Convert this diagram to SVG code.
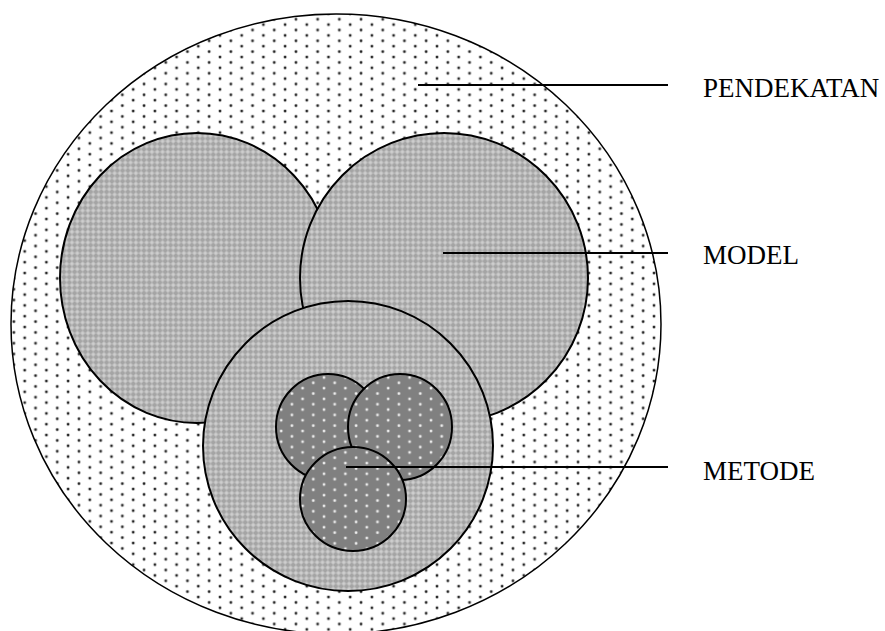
<svg xmlns="http://www.w3.org/2000/svg" width="885" height="631" viewBox="0 0 885 631">
<defs>
<pattern id="dots" width="21.7" height="10.8" patternUnits="userSpaceOnUse">
<rect width="21.7" height="10.8" fill="#ffffff"/>
<circle cx="3" cy="3" r="1.8" fill="#aaaaaa"/>
<rect x="2" y="2" width="2" height="2" fill="#222222"/>
<circle cx="13.85" cy="8.4" r="1.8" fill="#aaaaaa"/>
<rect x="12.85" y="7.4" width="2" height="2" fill="#222222"/>
</pattern>
<pattern id="hatch" width="5.33" height="5.33" patternUnits="userSpaceOnUse">
<rect width="5.33" height="5.33" fill="#a4a4a4"/>
<path d="M0 2.66 L2.66 0 L5.33 2.66 L2.66 5.33 Z" fill="#c4c4c4"/>
<rect x="2.1" y="2.1" width="1.1" height="1.1" fill="#e0e0e0"/>
</pattern>
<pattern id="wdots" width="21.4" height="10.7" patternUnits="userSpaceOnUse">
<rect width="21.4" height="10.7" fill="#808080"/>
<circle cx="3" cy="3" r="1.7" fill="#b0b0b0"/>
<rect x="2" y="2" width="2" height="2" fill="#f0f0f0"/>
<circle cx="13.7" cy="8.35" r="1.7" fill="#b0b0b0"/>
<rect x="12.7" y="7.35" width="2" height="2" fill="#f0f0f0"/>
</pattern>
<style>
.c{stroke:#000;stroke-width:2}
.lbl{font-family:"Liberation Serif","Times New Roman",serif;font-size:27px;fill:#000}
.ln{stroke:#000;stroke-width:2}
</style>
</defs>
<g id="pendekatan"><ellipse cx="336" cy="324" rx="325" ry="310" fill="url(#dots)" stroke="#000" stroke-width="1.5"/></g>
<g id="model-left"><ellipse cx="197" cy="278" rx="137" ry="145" fill="url(#hatch)" class="c"/></g>
<g id="model-right"><ellipse cx="444" cy="278" rx="144" ry="145" fill="url(#hatch)" class="c"/></g>
<g id="model-bottom"><ellipse cx="348" cy="446" rx="145" ry="145" fill="url(#hatch)" class="c"/></g>
<g id="metode-left"><ellipse cx="328" cy="427" rx="52" ry="53" fill="url(#wdots)" class="c"/></g>
<g id="metode-right"><ellipse cx="400" cy="427" rx="52" ry="53" fill="url(#wdots)" class="c"/></g>
<g id="metode-bottom"><ellipse cx="353" cy="499" rx="53" ry="52" fill="url(#wdots)" class="c"/></g>
<g id="connectors">
<line class="ln" x1="418" y1="85" x2="668" y2="85"/>
<line class="ln" x1="443" y1="253" x2="668" y2="253"/>
<line class="ln" x1="346" y1="467" x2="668" y2="467"/>
</g>
<g id="labels">
<text class="lbl" x="703" y="97">PENDEKATAN</text>
<text class="lbl" x="703" y="264">MODEL</text>
<text class="lbl" x="703" y="480">METODE</text>
</g>
</svg>
